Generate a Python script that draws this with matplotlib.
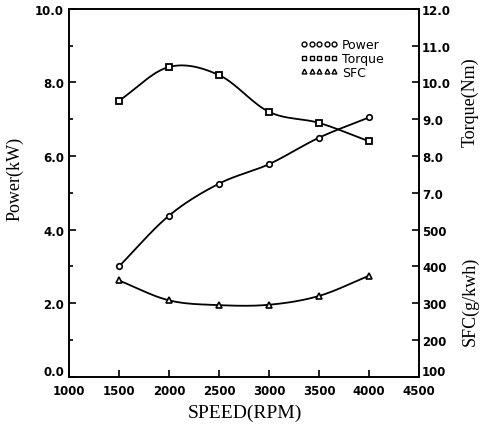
import numpy as np
import matplotlib
matplotlib.use("Agg")
import matplotlib.pyplot as plt
import matplotlib.transforms as mtransforms
from matplotlib.lines import Line2D

# engine test data
speed = [1500, 2000, 2500, 3000, 3500, 4000]
power = [3.0, 4.38, 5.25, 5.78, 6.5, 7.05]        # kW
torque = [9.5, 10.42, 10.2, 9.2, 8.9, 8.4]         # Nm
sfc = [362, 308, 295, 296, 320, 375]               # g/kWh

left_ticks = [0, 2, 4, 6, 8, 10]
torque_ticks = [7, 8, 9, 10, 11, 12]
sfc_ticks = [100, 200, 300, 400, 500]
speed_ticks = [1000, 1500, 2000, 2500, 3000, 3500, 4000, 4500]


def smooth(x, y, n=30):
    # catmull-rom through the measured points, just for the drawn curve
    x = np.asarray(x, float)
    y = np.asarray(y, float)
    px = np.concatenate([[2 * x[0] - x[1]], x, [2 * x[-1] - x[-2]]])
    py = np.concatenate([[2 * y[0] - y[1]], y, [2 * y[-1] - y[-2]]])
    xs, ys = [], []
    t = np.linspace(0, 1, n)
    for i in range(1, len(px) - 2):
        for p, out in ((px, xs), (py, ys)):
            p0, p1, p2, p3 = p[i - 1], p[i], p[i + 1], p[i + 2]
            out.extend(0.5 * (2 * p1 + (-p0 + p2) * t
                              + (2 * p0 - 5 * p1 + 4 * p2 - p3) * t ** 2
                              + (-p0 + 3 * p1 - 3 * p2 + p3) * t ** 3))
    return xs, ys


tick_font = {"family": "DejaVu Sans", "size": 8.5, "weight": "bold"}
label_font = {"family": "Liberation Serif", "size": 13}

fig = plt.figure(figsize=(4.92, 4.27), dpi=100)
ax = fig.add_axes([0.140, 0.115, 0.712, 0.862])
ax_t = ax.twinx()
ax_s = ax.twinx()

lw = 1.3
ms = 4
ax.plot(*smooth(speed, power), color="black", lw=lw)
ax.plot(speed, power, "o", mfc="white", mec="black", ms=ms, mew=1.2)
ax_t.plot(*smooth(speed, torque), color="black", lw=lw)
ax_t.plot(speed, torque, "s", mfc="white", mec="black", ms=ms, mew=1.3)
ax_s.plot(*smooth(speed, sfc), color="black", lw=lw)
ax_s.plot(speed, sfc, "^", mfc="white", mec="black", ms=ms, mew=1.2)

ax.set_xlim(1000, 4500)
ax.set_ylim(0, 10)
ax_t.set_ylim(2, 12)
ax_s.set_ylim(100, 1100)

ax.set_xticks(speed_ticks)
ax.set_xticklabels([str(s) for s in speed_ticks], fontdict=tick_font)
ax.set_yticks(left_ticks)
ax.set_yticklabels(["%.1f" % v for v in left_ticks], fontdict=tick_font)
ax.set_yticks([1, 3, 5, 7, 9], minor=True)
ax.tick_params(axis="both", which="both", direction="in", length=5, width=1.2)
ax.tick_params(axis="y", which="minor", length=3)
ax.tick_params(axis="x", pad=5)

ax_t.set_yticks(torque_ticks)
ax_t.set_yticklabels(["%.1f" % v for v in torque_ticks], fontdict=tick_font)
ax_s.set_yticks(sfc_ticks)
ax_s.set_yticklabels([str(v) for v in sfc_ticks], fontdict=tick_font)
for a in (ax_t, ax_s):
    a.tick_params(axis="y", direction="in", length=5, width=1.2, pad=2)
    for sp in a.spines.values():
        sp.set_visible(False)

for sp in ax.spines.values():
    sp.set_linewidth(1.4)

# corner labels sit a little higher than the axis, as in the original
up = mtransforms.ScaledTranslation(0, 5 / 72, fig.dpi_scale_trans)
for lab in (ax.get_yticklabels()[0], ax_s.get_yticklabels()[0]):
    lab.set_transform(lab.get_transform() + up)

fig.text(0.03, 0.58, "Power(kW)", rotation=90, ha="center", va="center", **label_font)
fig.text(0.955, 0.76, "Torque(Nm)", rotation=90, ha="center", va="center", **label_font)
fig.text(0.955, 0.295, "SFC(g/kwh)", rotation=90, ha="center", va="center", **label_font)
fig.text(0.498, 0.033, "SPEED(RPM)", ha="center", va="center",
         family="Liberation Serif", size=14)

handles = [
    Line2D([], [], ls="none", marker="o", mfc="white", mec="black", ms=3.5, mew=1),
    Line2D([], [], ls="none", marker="s", mfc="white", mec="black", ms=3.5, mew=1),
    Line2D([], [], ls="none", marker="^", mfc="white", mec="black", ms=3.5, mew=1),
]
ax.legend(handles, ["Power", "Torque", "SFC"], loc="upper right",
          bbox_to_anchor=(0.93, 0.95), numpoints=5, handlelength=3.0,
          handletextpad=0.3, labelspacing=0.05, frameon=False,
          prop={"family": "DejaVu Sans", "size": 9})

fig.savefig("out.png", dpi=100)
